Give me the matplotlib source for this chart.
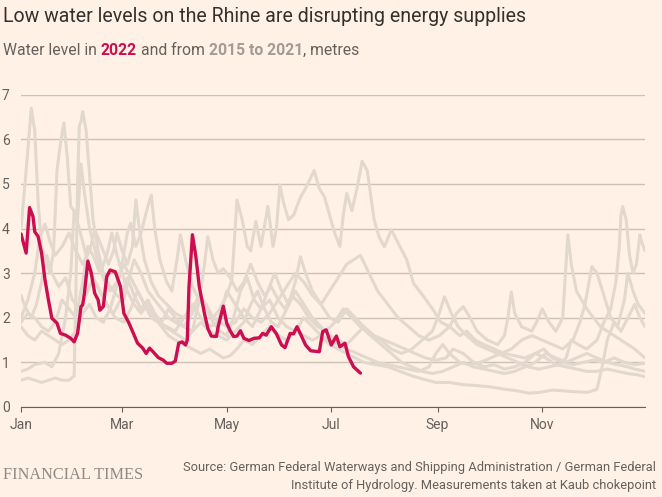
import matplotlib
matplotlib.use("Agg")
import matplotlib.pyplot as plt

# ---------------- data (day of year, water level in metres) ----------------
level_2015 = [(0,2.5),(3,2.2),(6,2.0),(9,2.3),(12,2.8),(15,3.4),(18,3.0),(22,2.7),(26,2.9),(30,2.4),
              (34,2.2),(38,2.5),(42,2.9),(46,2.6),(50,2.3),(54,2.1),(58,2.4),(62,2.9),(66,2.5),(70,2.2),
              (74,2.4),(78,2.1),(82,1.9),(86,2.2),(90,2.0),(95,1.8),(100,2.1),(104,2.5),(108,2.2),(112,1.9),
              (116,1.7),(120,1.6),(124,2.0),(128,2.6),(132,2.9),(136,2.4),(140,2.2),(144,2.6),(148,3.0),(152,2.6),
              (156,2.3),(160,2.8),(163,3.37),(166,3.0),(170,2.6),(175,2.3),(180,2.0),(185,1.9),(190,2.2),(195,2.0),
              (200,1.8),(206,1.6),(212,1.5),(218,1.4),(224,1.3),(230,1.2),(236,1.1),(242,1.05),(248,1.1),(252,1.3),
              (258,1.2),(264,1.0),(270,0.9),(276,0.95),(282,0.85),(288,0.9),(294,1.0),(300,1.2),(306,1.1),(312,0.95),
              (318,0.9),(324,0.85),(330,0.8),(336,0.8),(342,0.85),(348,0.8),(354,0.75),(360,0.72),(364,0.68)]

level_2016 = [(0,2.0),(4,2.4),(8,3.0),(11,3.8),(14,4.1),(17,3.7),(20,3.4),(24,3.6),(28,3.9),(32,3.5),
              (36,3.2),(40,3.5),(43,3.97),(47,3.6),(51,3.2),(54,3.5),(56,3.9),(59,3.5),(62,3.2),(65,3.6),
              (67,4.64),(69,4.0),(72,3.3),(76,2.8),(80,2.5),(85,2.3),(90,2.1),(95,2.0),(100,2.2),(104,2.5),
              (108,2.3),(112,2.0),(116,2.2),(120,2.5),(123,2.85),(126,4.64),(129,4.2),(132,3.6),(134,3.5),(137,4.16),
              (140,3.6),(144,4.5),(147,3.6),(149,4.0),(151,4.98),(153,4.6),(156,4.2),(159,4.3),(163,4.7),(166,4.9),
              (171,5.3),(174,4.9),(177,4.71),(180,4.3),(183,3.9),(186,3.6),(188,4.3),(190,4.79),(193,4.4),(196,4.9),
              (199,5.51),(202,5.3),(206,4.19),(209,3.8),(212,3.59),(216,3.97),(221,3.6),(225,3.3),(229,2.77),(235,2.47),
              (240,2.2),(245,1.9),(250,1.8),(256,1.6),(260,1.7),(265,1.5),(270,1.4),(276,1.3),(282,1.2),(288,1.15),
              (294,1.1),(300,1.2),(305,1.3),(310,1.1),(316,1.0),(322,0.95),(328,1.0),(334,1.05),(340,1.0),(346,1.1),
              (352,1.0),(358,0.95),(364,0.98)]

level_2017 = [(0,0.6),(4,0.65),(8,0.6),(12,0.55),(16,0.6),(20,0.65),(24,0.6),(28,0.6),(31,0.7),(32,2.5),
              (33,5.0),(34,6.3),(35,6.4),(36,6.62),(38,6.2),(40,5.2),(42,4.2),(45,3.5),(48,3.0),(52,2.7),
              (56,2.5),(60,2.4),(63,2.9),(66,3.3),(70,3.0),(74,2.6),(78,2.4),(82,2.2),(86,2.0),(90,1.9),
              (95,1.8),(100,1.7),(105,1.9),(110,1.7),(115,1.6),(120,1.5),(125,1.7),(130,1.9),(134,2.3),(138,2.6),
              (142,2.2),(146,1.9),(150,1.8),(155,2.2),(160,2.6),(165,2.3),(170,2.0),(175,1.8),(180,1.6),(185,1.5),
              (190,1.4),(195,1.6),(200,1.8),(205,1.6),(210,1.5),(216,1.3),(222,1.2),(228,1.3),(234,1.5),(240,1.7),
              (244,2.1),(247,2.47),(251,2.1),(255,1.8),(260,1.6),(266,1.4),(272,1.3),(278,1.2),(284,1.1),(290,1.0),
              (296,0.9),(302,0.85),(308,0.9),(314,0.95),(318,1.1),(321,1.5),(325,1.4),(330,1.3),(336,1.5),(340,1.9),
              (344,2.2),(347,2.8),(349,3.6),(350,4.3),(351,4.49),(353,4.2),(355,3.4),(357,3.0),(359,3.2),(361,3.86),
              (362,3.7),(364,3.5)]

level_2018 = [(0,4.0),(3,5.3),(6,6.7),(8,6.2),(10,4.6),(12,3.6),(14,3.3),(17,3.0),(19,3.5),(21,5.3),
              (23,5.9),(25,6.37),(27,5.6),(29,4.5),(31,4.4),(34,4.0),(38,3.4),(42,2.9),(46,2.6),(50,2.3),
              (55,2.0),(60,1.9),(64,2.2),(68,2.6),(72,2.3),(76,2.0),(80,1.9),(85,1.8),(90,1.7),(95,2.0),
              (100,2.3),(105,2.0),(110,1.8),(115,1.9),(120,2.6),(125,2.3),(130,2.0),(135,1.8),(140,2.2),(145,2.4),
              (150,2.0),(155,1.8),(160,1.7),(165,1.6),(170,1.5),(175,1.6),(180,1.4),(185,1.3),(190,1.2),(195,1.1),
              (200,1.0),(207,0.95),(214,0.9),(221,0.8),(228,0.7),(235,0.62),(242,0.55),(250,0.55),(258,0.5),(266,0.48),
              (274,0.45),(282,0.4),(290,0.36),(296,0.31),(303,0.33),(310,0.38),(317,0.36),(324,0.34),(331,0.33),(336,0.4),
              (339,0.9),(342,1.5),(346,1.9),(350,1.7),(354,2.0),(358,2.3),(361,2.0),(364,1.8)]

level_2019 = [(0,1.8),(4,1.6),(8,1.5),(12,1.7),(16,1.6),(20,1.5),(24,1.4),(28,1.5),(32,1.7),(36,2.1),
              (40,2.3),(44,2.0),(48,1.9),(52,2.2),(55,2.6),(58,3.0),(62,3.9),(64,4.12),(67,3.6),(70,3.9),
              (74,4.5),(76,4.75),(78,4.0),(81,3.3),(85,2.8),(88,2.6),(91,3.3),(93,3.86),(96,3.3),(100,2.7),
              (104,2.4),(108,2.2),(112,2.0),(116,1.9),(120,1.8),(125,1.9),(130,2.2),(135,2.0),(140,1.9),(145,2.1),
              (150,2.4),(155,2.7),(160,3.0),(165,2.8),(170,2.5),(175,2.3),(180,2.6),(185,2.9),(190,3.2),(198,3.4),
              (203,3.0),(208,2.6),(214,2.3),(220,2.0),(226,1.8),(232,1.6),(238,1.5),(244,1.6),(250,1.8),(254,2.1),
              (258,2.25),(262,2.0),(266,1.7),(272,1.5),(278,1.4),(282,1.6),(284,2.0),(286,2.58),(288,2.1),(292,1.8),
              (298,1.7),(302,2.0),(304,2.2),(308,1.9),(312,1.7),(316,2.0),(319,3.86),(321,3.2),(324,2.6),(327,2.4),
              (330,2.2),(334,2.0),(338,1.8),(342,1.7),(346,1.6),(350,1.5),(354,1.4),(358,1.3),(361,1.2),(364,1.1)]

level_2020 = [(0,1.9),(4,2.1),(8,2.0),(12,1.8),(16,1.7),(20,1.9),(24,2.4),(28,2.2),(32,2.0),(36,2.8),
              (39,3.6),(42,3.4),(46,3.0),(50,3.4),(53,3.9),(56,3.4),(59,3.0),(62,2.6),(66,2.3),(70,2.1),
              (74,2.3),(78,2.0),(82,1.8),(86,1.6),(90,1.5),(95,1.4),(100,1.3),(105,1.2),(110,1.3),(114,1.2),
              (118,1.1),(122,1.15),(126,1.3),(130,1.5),(135,1.4),(140,1.6),(145,1.8),(150,1.6),(155,1.5),(160,1.7),
              (165,2.0),(170,1.8),(175,1.6),(180,1.5),(185,1.4),(190,1.3),(196,1.2),(202,1.1),(208,1.0),(214,0.95),
              (220,0.9),(226,0.85),(232,0.8),(238,0.9),(242,1.2),(246,1.4),(250,1.2),(256,1.0),(262,0.95),(268,1.0),
              (274,1.1),(280,1.2),(286,1.3),(292,1.5),(298,1.6),(304,1.5),(310,1.4),(316,1.3),(322,1.5),(326,1.9),
              (329,2.3),(333,3.15),(336,3.0),(340,2.5),(344,2.0),(348,1.8),(352,2.4),(354,3.0),(357,2.6),(360,2.3),
              (364,2.1)]

level_2021 = [(0,0.8),(4,0.85),(8,0.95),(14,1.0),(18,0.9),(22,1.2),(26,2.0),(29,3.0),(31,4.4),(33,4.2),
              (35,5.45),(37,4.8),(40,4.0),(44,3.4),(48,2.9),(52,2.6),(56,2.8),(60,3.2),(64,2.9),(68,2.6),
              (72,2.3),(76,2.1),(80,1.9),(84,1.8),(88,1.7),(92,1.6),(96,1.5),(100,1.7),(104,2.4),(107,3.2),
              (109,3.82),(112,3.3),(115,3.0),(118,3.1),(122,2.9),(126,2.6),(130,2.8),(134,3.2),(138,2.8),(142,2.5),
              (146,2.7),(150,2.4),(154,2.2),(158,2.5),(163,2.3),(168,2.0),(173,1.8),(178,1.7),(183,1.9),(188,2.2),
              (193,2.0),(198,1.8),(204,1.6),(210,1.4),(216,1.2),(222,1.0),(228,0.9),(234,0.8),(240,0.75),(246,0.8),
              (252,0.9),(258,1.0),(264,0.9),(270,0.85),(276,0.8),(282,0.75),(288,0.8),(294,0.9),(300,1.0),(306,1.2),
              (312,1.1),(318,1.0),(324,1.1),(330,1.2),(336,1.1),(342,1.0),(348,0.95),(354,0.9),(358,0.85),(364,0.8)]

level_2022 = [(0,3.88),(3,3.45),(5,4.47),(7,4.27),(8,3.93),(10,3.82),(12,3.45),(14,2.85),(16,2.4),(18,1.99),
              (21,1.88),(23,1.65),(26,1.61),(29,1.54),(31,1.46),(33,1.65),(35,2.25),(36,2.29),(37,2.55),(39,3.27),
              (41,3.0),(43,2.55),(45,2.4),(46,2.17),(48,2.25),(50,2.92),(52,3.07),(55,3.03),(58,2.70),(60,2.10),
              (63,1.88),(66,1.61),(68,1.43),(71,1.32),(73,1.20),(75,1.32),(77,1.24),(80,1.11),(83,1.05),(85,0.98),
              (88,0.98),(90,1.03),(92,1.43),(94,1.46),(96,1.39),(97,1.50),(98,2.70),(100,3.86),(102,3.37),(104,2.70),
              (107,2.10),(109,1.76),(111,1.59),(114,1.58),(115,1.80),(118,2.26),(120,1.88),(122,1.71),(124,1.58),(126,1.59),
              (128,1.71),(130,1.54),(133,1.49),(136,1.54),(139,1.55),(141,1.65),(143,1.61),(146,1.80),(149,1.64),(152,1.39),
              (154,1.33),(157,1.65),(159,1.64),(161,1.80),(163,1.64),(166,1.39),(169,1.26),(174,1.24),(176,1.69),(178,1.73),
              (181,1.39),(184,1.59),(186,1.35),(189,1.43),(191,1.13),(194,0.90),(198,0.76)]

past_years = [level_2015, level_2016, level_2017, level_2018, level_2019, level_2020, level_2021]

month_days = [0, 59, 120, 181, 243, 304]
month_labels = ["Jan", "Mar", "May", "Jul", "Sep", "Nov"]
y_ticks = [0, 1, 2, 3, 4, 5, 6, 7]

# ---------------- style ----------------
W, H, DPI = 662, 497, 100
BG = "#fff1e5"
GREY_LINE = "#e3d8ce"
GRID = "#ccc1b7"
RED = "#cc0e50"
TITLE_C = "#33302e"
SUB_C = "#66605c"
PAST_C = "#a39b94"
FONT = ["Roboto", "DejaVu Sans"]
plt.rcParams["font.family"] = FONT

fig = plt.figure(figsize=(W / DPI, H / DPI), dpi=DPI, facecolor=BG)
ax_left, ax_right, ax_top, ax_bottom = 21, 645, 94.7, 407
ax = fig.add_axes([ax_left / W, (H - ax_bottom) / H, (ax_right - ax_left) / W, (ax_bottom - ax_top) / H])
ax.set_facecolor(BG)

for yr in past_years:
    d, v = zip(*yr)
    ax.plot(d, v, color=GREY_LINE, lw=2.2, solid_joinstyle="round", solid_capstyle="round", zorder=2)
d, v = zip(*level_2022)
ax.plot(d, v, color=RED, lw=2.4, solid_joinstyle="round", solid_capstyle="round", zorder=3)

ax.set_xlim(0, 364)
ax.set_ylim(0, 7)
ax.set_yticks(y_ticks)
ax.set_yticklabels([str(t) for t in y_ticks])
for lbl in ax.get_yticklabels():
    lbl.set_horizontalalignment("left")
ax.tick_params(axis="y", length=0, pad=19 * 72 / DPI, labelsize=10, labelcolor=SUB_C)
ax.set_xticks(month_days)
ax.set_xticklabels(month_labels)
ax.tick_params(axis="x", length=5 * 72 / DPI, width=0.8, color=SUB_C, pad=4, labelsize=10, labelcolor=SUB_C)
ax.grid(axis="y", color=GRID, lw=1.0)
ax.set_axisbelow(True)
for s in ["left", "right", "top"]:
    ax.spines[s].set_visible(False)
ax.spines["bottom"].set_color(SUB_C)
ax.spines["bottom"].set_linewidth(0.8)
ax.spines["bottom"].set_zorder(4)

renderer = fig.canvas.get_renderer()


def fig_xy(x, y):
    return x / W, 1 - y / H


def width_of(t):
    return t.get_window_extent(renderer).width


def fitted(x, y, s, target_w, **kw):
    t = fig.text(*fig_xy(x, y), s, fontsize=12, **kw)
    t.set_fontsize(12 * target_w / width_of(t))
    return t


# title
fitted(3, 22, "Low water levels on the Rhine are disrupting energy supplies", 520,
       color=TITLE_C, va="baseline", ha="left")

# subtitle (mixed colours)
pieces = [("Water level in", SUB_C, "normal", True),
          ("2022", RED, "bold", True),
          ("and from", SUB_C, "normal", True),
          ("2015 to 2021", PAST_C, "bold", False),
          (", metres", SUB_C, "normal", False)]
base = 12
probe_a = fig.text(0, 0, "a a", fontsize=base)
probe_b = fig.text(0, 0, "aa", fontsize=base)
space_w = width_of(probe_a) - width_of(probe_b)
probe_a.remove(); probe_b.remove()
objs = []
total = 0
for s, c, wgt, gap in pieces:
    t = fig.text(0, 0, s, fontsize=base, color=c, fontweight=wgt, va="baseline", ha="left")
    objs.append(t)
    total += width_of(t) + (space_w if gap else 0)
scale = 355 / total
cursor = 3
for t, (s, c, wgt, gap) in zip(objs, pieces):
    t.set_fontsize(base * scale)
    t.set_position(fig_xy(cursor, 55))
    cursor += width_of(t) + (space_w * scale if gap else 0)

# footer
fitted(3, 479, "FINANCIAL TIMES", 139, color="#8f8984", family=["Liberation Serif", "DejaVu Serif"],
       va="baseline", ha="left")
src1 = fitted(656, 471.5, "Source: German Federal Waterways and Shipping Administration / German Federal", 470,
              color=SUB_C, va="baseline", ha="right")
fig.text(*fig_xy(656, 488.5), "Institute of Hydrology. Measurements taken at Kaub chokepoint",
         fontsize=src1.get_fontsize(), color=SUB_C, va="baseline", ha="right")

fig.savefig("out.png", dpi=DPI, facecolor=BG)
